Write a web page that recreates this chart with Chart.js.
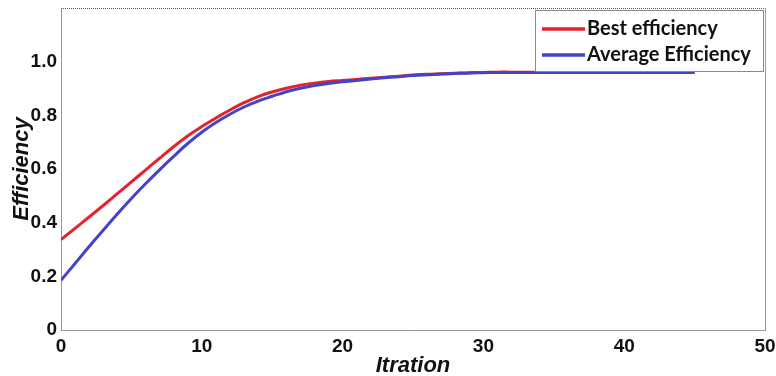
<!DOCTYPE html>
<html>
<head>
<meta charset="utf-8">
<script src="https://cdn.jsdelivr.net/npm/chart.js@4/dist/chart.umd.min.js"></script>
<style>
  html, body { margin: 0; padding: 0; background: #fff; }
  #wrap { width: 776px; height: 376px; }
</style>
</head>
<body>
<div id="wrap"><canvas id="chart"></canvas></div>
<script>
// iterations 0..45
const iterations = Array.from({length: 46}, (_, i) => i);

const bestEfficiency = [
  0.337, 0.379, 0.421, 0.464, 0.508, 0.552, 0.596, 0.640, 0.683, 0.723,
  0.758, 0.790, 0.820, 0.847, 0.870, 0.887, 0.901, 0.912, 0.920, 0.926,
  0.930, 0.934, 0.938, 0.942, 0.946, 0.950, 0.953, 0.955, 0.957, 0.959,
  0.960, 0.961, 0.961, 0.961, 0.961, 0.961, 0.961, 0.961, 0.961, 0.961,
  0.961, 0.961, 0.961, 0.961, 0.961, 0.961
];

const averageEfficiency = [
  0.185, 0.248, 0.311, 0.372, 0.432, 0.490, 0.545, 0.597, 0.647, 0.695,
  0.737, 0.773, 0.804, 0.831, 0.853, 0.871, 0.888, 0.901, 0.911, 0.919,
  0.925, 0.930, 0.935, 0.940, 0.944, 0.948, 0.951, 0.954, 0.956, 0.958,
  0.959, 0.960, 0.960, 0.960, 0.960, 0.960, 0.960, 0.960, 0.960, 0.960,
  0.960, 0.960, 0.960, 0.960, 0.960, 0.960
];

const seriesLabels = ['Best efficiency', 'Average Efficiency'];
const seriesColors = ['#e3222d', '#4343c9'];

const tickFont = {family: '"Liberation Sans", Arial, sans-serif', size: 19, weight: 'bold'};
const titleFont = {family: '"Liberation Sans", Arial, sans-serif', size: 22, weight: 'bold', style: 'italic'};

// legend box inside the plot, top right
const boxLegend = {
  id: 'boxLegend',
  afterDatasetsDraw(chart) {
    const ctx = chart.ctx;
    const area = chart.chartArea;
    const w = 228, h = 61;
    const x = area.right - w - 2, y = area.top + 2;
    ctx.save();
    ctx.fillStyle = '#fff';
    ctx.fillRect(x, y, w, h);
    ctx.strokeStyle = '#8a8a8a';
    ctx.lineWidth = 1;
    ctx.strokeRect(x + 0.5, y + 0.5, w, h);
    ctx.font = 'bold 20px Lato, "Open Sans", sans-serif';
    ctx.textBaseline = 'middle';
    chart.data.datasets.forEach((ds, i) => {
      const ly = y + 19 + i * 26;
      ctx.strokeStyle = ds.borderColor;
      ctx.lineWidth = 3.5;
      ctx.beginPath();
      ctx.moveTo(x + 7, ly);
      ctx.lineTo(x + 50, ly);
      ctx.stroke();
      ctx.fillStyle = '#111';
      ctx.fillText(ds.label, x + 52, ly);
    });
    ctx.restore();
  }
};

// frame: dotted top border, solid right border
const frame = {
  id: 'frame',
  beforeDatasetsDraw(chart) {
    const ctx = chart.ctx;
    const a = chart.chartArea;
    ctx.save();
    ctx.strokeStyle = '#555';
    ctx.lineWidth = 1;
    ctx.setLineDash([1, 1]);
    ctx.beginPath();
    ctx.moveTo(a.left, a.top + 0.5);
    ctx.lineTo(a.right, a.top + 0.5);
    ctx.stroke();
    ctx.setLineDash([]);
    ctx.strokeStyle = '#999';
    ctx.beginPath();
    ctx.moveTo(a.right + 0.5, a.top);
    ctx.lineTo(a.right + 0.5, a.bottom);
    ctx.stroke();
    ctx.restore();
  }
};

new Chart(document.getElementById('chart'), {
  type: 'line',
  data: {
    labels: iterations,
    datasets: [
      {label: seriesLabels[0], data: bestEfficiency, borderColor: seriesColors[0], order: 1},
      {label: seriesLabels[1], data: averageEfficiency, borderColor: seriesColors[1], order: 0}
    ].map(d => Object.assign(d, {
      borderWidth: 3,
      pointRadius: 0,
      tension: 0.4,
      fill: false
    }))
  },
  options: {
    responsive: true,
    maintainAspectRatio: false,
    animation: false,
    layout: {padding: {top: 8, right: 11, left: 0, bottom: 0}},
    plugins: {
      legend: {display: false},
      tooltip: {enabled: false}
    },
    scales: {
      x: {
        type: 'linear',
        min: 0,
        max: 50,
        ticks: {stepSize: 10, color: '#111', font: tickFont, padding: 5, maxRotation: 0},
        grid: {display: false, drawTicks: false},
        border: {display: true, color: '#999', width: 1},
        title: {display: true, text: 'Itration', color: '#111', font: titleFont, padding: {top: 0, bottom: -3}},
        afterFit(scale) {
          scale.height = 46;
          scale.paddingRight = 0;
        }
      },
      y: {
        min: 0,
        max: 1.2,
        ticks: {
          stepSize: 0.2,
          color: '#111',
          font: tickFont,
          padding: 4,
          callback: v => v === 0 ? '0' : (v > 1.1 ? '' : v.toFixed(1))
        },
        grid: {display: false, drawTicks: false},
        border: {display: true, color: '#999', width: 1},
        title: {display: true, text: 'Efficiency', color: '#111', font: titleFont, padding: {top: 9, bottom: 0}},
        afterFit(scale) {
          scale.width = 61;
          scale.paddingTop = 0;
          scale.paddingBottom = 0;
        }
      }
    }
  },
  plugins: [frame, boxLegend]
});
</script>
</body>
</html>
